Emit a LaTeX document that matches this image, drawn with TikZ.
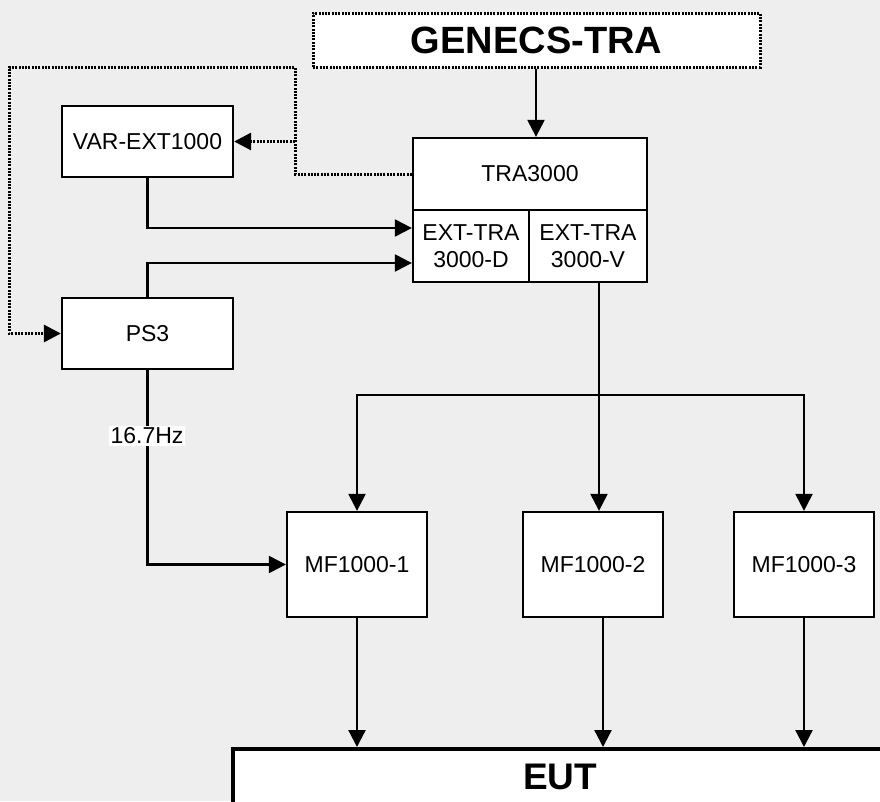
\documentclass[tikz,border=0pt]{standalone}
\usepackage{fontspec}
\setmainfont{Liberation Sans}
\usetikzlibrary{arrows.meta,calc}
\definecolor{bg}{HTML}{EEEEEE}
\begin{document}
\begin{tikzpicture}[x=1pt,y=-1pt,
  box/.style={draw, line width=2.3pt, fill=white, inner sep=0pt, align=center,
    font=\fontsize{23}{27.6}\selectfont},
  arr/.style={line width=2.3pt, -{Triangle[length=17pt,width=17pt]}},
  dotln/.style={line width=3pt, dash pattern=on 2pt off 1.3pt},
  big/.style={font=\bfseries\fontsize{38}{44}\selectfont}]
\clip (0,0) rectangle (880,801);
\fill[bg] (0,0) rectangle (880,801);

% nodes
\node[box, dotln, big, minimum width=447pt, minimum height=54pt] (gen) at (536.5,40) {GENECS-TRA};
\node[box, minimum width=234pt, minimum height=72pt] (tra) at (530,174) {TRA3000};
\node[box, minimum width=116pt, minimum height=72pt] (extd) at (471,246) {EXT-TRA\\3000-D};
\node[box, minimum width=118pt, minimum height=72pt] (extv) at (588,246) {EXT-TRA\\3000-V};
\node[box, minimum width=171pt, minimum height=71pt] (var) at (147.5,141.5) {VAR-EXT1000};
\node[box, minimum width=171pt, minimum height=71pt] (ps3) at (147.5,333.5) {PS3};
\node[box, minimum width=140pt, minimum height=105pt] (mf1) at (357,564.5) {MF1000-1};
\node[box, minimum width=140pt, minimum height=105pt] (mf2) at (593,564.5) {MF1000-2};
\node[box, minimum width=140pt, minimum height=105pt] (mf3) at (804,564.5) {MF1000-3};
\node[box, line width=4pt, font=\bfseries\fontsize{37}{44}\selectfont,
  minimum width=654pt, minimum height=56pt, anchor=north west] (eut) at (231,747) {EUT};

% dotted control lines
\coordinate (dtop) at (295,67);
\coordinate (dleft) at (9,67);
\draw[arr, dotln] (tra.west) -| (dtop) -- (dleft) |- (ps3.west);
\draw[arr, dotln] (var.east -| dtop) -- (var.east);

% solid connectors
\draw[arr] (gen.south -| 536,0) -- (tra.north -| 536,0);
\draw[arr] (var.south) |- ($(extd.west)+(0,-18)$);
\draw[arr] (ps3.north) |- ($(extd.west)+(0,17)$);
\draw[arr] (ps3.south) |- (mf1.west);
\node[fill=white, inner sep=1.5pt, font=\fontsize{23}{27.6}\selectfont] (hz) at (147,436) {16.7Hz};

\coordinate (vout) at ($(extv.south)+(11,0)$);
\coordinate (hub) at ($(vout)+(0,112)$);
\draw[line width=2.3pt] (vout) -- (hub);
\draw[arr] (hub) -- (hub |- mf2.north);
\draw[arr] (hub) -| (mf1.north);
\draw[arr] (hub) -| (mf3.north);

\coordinate (m2out) at ($(mf2.south)+(10,0)$);
\draw[arr] (mf1.south) -- (mf1.south |- eut.north);
\draw[arr] (m2out) -- (m2out |- eut.north);
\draw[arr] (mf3.south) -- (mf3.south |- eut.north);
\end{tikzpicture}
\end{document}
